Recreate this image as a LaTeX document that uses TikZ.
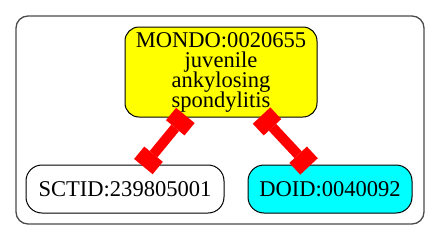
\documentclass[tikz,border=0pt]{standalone}
\usepackage{fontspec}
\setmainfont{Liberation Serif}
\usetikzlibrary{arrows.meta}
\definecolor{termyellow}{HTML}{FFFF00}
\definecolor{termcyan}{HTML}{00FFFF}
\definecolor{xrefred}{HTML}{FF0000}
\newcommand\termfont{\fontsize{16.9}{15}\selectfont\lineskiplimit=-20pt\relax}
\tikzset{
  frame/.style={draw=black!70, line width=1pt, rounded corners=9pt},
  term/.style={draw=black, line width=0.75pt, rounded corners=12pt,
    inner sep=0pt, align=center, font=\termfont},
  teeedge/.style={draw=xrefred, line width=7.5pt,
    shorten <=-2pt, shorten >=-2pt,
    {Rectangle[length=12pt,width=18pt,line width=0pt]}-{Rectangle[length=12pt,width=18pt,line width=0pt]}}
}
\begin{document}
\begin{tikzpicture}[x=0.75pt,y=-0.75pt]
  \useasboundingbox (0,0) rectangle (440,240);
  % surrounding frame
  \draw[frame] (16,16) rectangle (424,224);
  % terms
  \node[term, fill=termyellow, rounded corners=10.5pt,
        minimum width=144pt, minimum height=67.5pt] (mondo) at (221,72)
        {MONDO:0020655\\juvenile\\ankylosing\\spondylitis};
  \node[term, fill=white, minimum width=148.5pt, minimum height=36pt]
        (sctid) at (125,189) {SCTID:239805001};
  \node[term, fill=termcyan, minimum width=123pt, minimum height=36pt]
        (doid) at (330,189) {DOID:0040092};
  % cross references
  \draw[teeedge] (mondo) -- (sctid);
  \draw[teeedge] (mondo) -- (doid);
\end{tikzpicture}
\end{document}
